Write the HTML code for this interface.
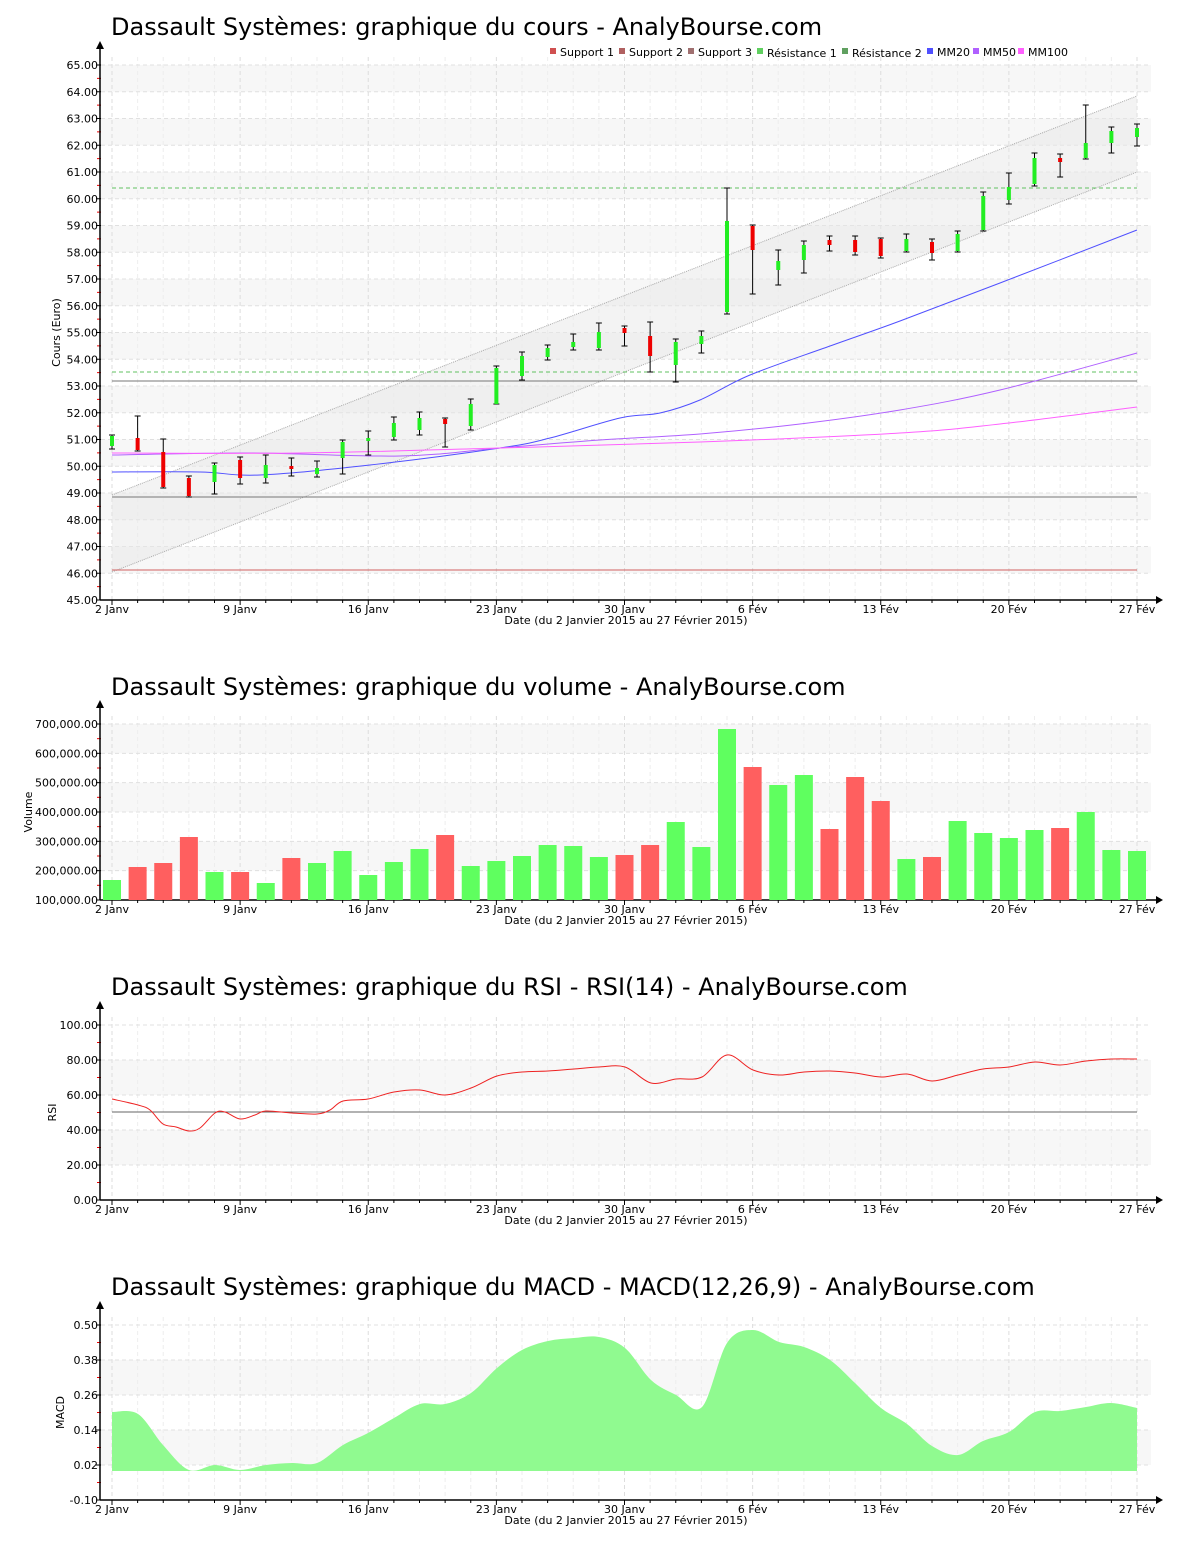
<!DOCTYPE html>
<html><head><meta charset="utf-8">
<style>
body{margin:0;background:#fff;width:1200px;height:1550px;overflow:hidden;font-family:"DejaVu Sans","Liberation Sans",sans-serif}
svg{position:absolute;left:0;top:0}
text{font-family:"DejaVu Sans","Liberation Sans",sans-serif}
</style></head><body>
<svg id="s" width="1200" height="1550" xmlns="http://www.w3.org/2000/svg">
<text x="111" y="35" font-size="24" fill="#000">Dassault Systèmes: graphique du cours - AnalyBourse.com</text>
<text x="111" y="695" font-size="24" fill="#000">Dassault Systèmes: graphique du volume - AnalyBourse.com</text>
<text x="111" y="995" font-size="24" fill="#000">Dassault Systèmes: graphique du RSI - RSI(14) - AnalyBourse.com</text>
<text x="111" y="1295" font-size="24" fill="#000">Dassault Systèmes: graphique du MACD - MACD(12,26,9) - AnalyBourse.com</text>
<g font-size="11" fill="#000">
<rect x="550" y="48" width="6" height="6" fill="#d05050"/><text x="560" y="56">Support 1</text>
<rect x="619" y="48" width="6" height="6" fill="#b06060"/><text x="629" y="56">Support 2</text>
<rect x="688" y="48" width="6" height="6" fill="#a07070"/><text x="698" y="56">Support 3</text>
<rect x="757" y="48" width="6" height="6" fill="#60d060"/><text x="767" y="57">Résistance 1</text>
<rect x="842" y="48" width="6" height="6" fill="#60a060"/><text x="852" y="57">Résistance 2</text>
<rect x="927" y="48" width="6" height="6" fill="#5050ff"/><text x="937" y="56">MM20</text>
<rect x="973" y="48" width="6" height="6" fill="#b060ff"/><text x="983" y="56">MM50</text>
<rect x="1018" y="48" width="6" height="6" fill="#ff60ff"/><text x="1028" y="56">MM100</text>
</g>
</svg>
<script>
const S=document.getElementById('s');const NS='http://www.w3.org/2000/svg';
function el(t,a,txt){const e=document.createElementNS(NS,t);for(const k in a)e.setAttribute(k,a[k]);if(txt!==undefined)e.textContent=txt;S.appendChild(e);return e;}
const X=i=>112+i*25.625;
const dates=[[0,'2 Janv'],[5,'9 Janv'],[10,'16 Janv'],[15,'23 Janv'],[20,'30 Janv'],[25,'6 Fév'],[30,'13 Fév'],[35,'20 Fév'],[40,'27 Fév']];
function frame(top,bot,labels,bandsGrayStart,ylabel,ylx){
 for(let k=0;k<labels.length-1;k++){ if((k%2===0)===bandsGrayStart) el('rect',{x:101,y:labels[k][0],width:1050,height:labels[k+1][0]-labels[k][0],fill:'#f7f7f7'});}
 for(let i=0;i<=40;i++){const maj=i%5===0;el('line',{x1:X(i),x2:X(i),y1:top-8,y2:bot,stroke:maj?'#ddd':'#eee','stroke-dasharray':'4,3'});}
 labels.forEach(([y,t])=>{el('line',{x1:101,x2:1151,y1:y,y2:y,stroke:'#e0e0e0','stroke-dasharray':'4,3'});
  el('line',{x1:96,x2:101,y1:y,y2:y,stroke:'#000'});el('text',{x:98,y:y+4,'font-size':11,'text-anchor':'end'},t);});
 for(let k=0;k<labels.length-1;k++){const y=(labels[k][0]+labels[k+1][0])/2;el('line',{x1:97,x2:101,y1:y,y2:y,stroke:'#e00'});}
 el('line',{x1:100,x2:100,y1:top-18,y2:bot,stroke:'#000','stroke-width':1.5});
 el('polygon',{points:`96,${top-16} 104,${top-16} 100,${top-24}`,fill:'#000'});
 el('line',{x1:100,x2:1158,y1:bot,y2:bot,stroke:'#000','stroke-width':1.5});
 el('polygon',{points:`1156,${bot-4} 1156,${bot+4} 1163,${bot}`,fill:'#000'});
 for(let i=0;i<=40;i++){el('line',{x1:X(i),x2:X(i),y1:bot,y2:bot+(i%5?3:5),stroke:'#000'});}
 dates.forEach(([i,t])=>el('text',{x:X(i),y:bot+13,'font-size':11,'text-anchor':'middle'},t));
 el('text',{x:626,y:bot+24,'font-size':11,'text-anchor':'middle'},'Date (du 2 Janvier 2015 au 27 Février 2015)');
 el('text',{x:ylx,y:(top+bot)/2,'font-size':11,'text-anchor':'middle',transform:`rotate(-90 ${ylx} ${(top+bot)/2})`},ylabel);
}
function smooth(p){let d='M'+p[0][0]+','+p[0][1];for(let i=0;i<p.length-1;i++){const a=p[i-1]||p[i],b=p[i],c=p[i+1],e=p[i+2]||c;
 d+=` C${b[0]+(c[0]-a[0])/6},${b[1]+(c[1]-a[1])/6} ${c[0]-(e[0]-b[0])/6},${c[1]-(e[1]-b[1])/6} ${c[0]},${c[1]}`;}return d;}
function pline(p,c){el('path',{d:smooth(p),fill:'none',stroke:c,'stroke-width':1});}
let pl=[];for(let v=65;v>=45;v--)pl.push([65+(65-v)*26.75,v.toFixed(2)]);
frame(65,600,pl,true,'Cours (Euro)',60);
el('polygon',{points:'112,495 1137,96 1137,172 112,572',fill:'#e8e8e8','fill-opacity':0.5});
el('line',{x1:112,y1:495,x2:1137,y2:96,stroke:'#aaa','stroke-dasharray':'1,1'});
el('line',{x1:112,y1:572,x2:1137,y2:172,stroke:'#aaa','stroke-dasharray':'1,1'});
el('line',{x1:112,x2:1137,y1:570,y2:570,stroke:'#d06060'});
el('line',{x1:112,x2:1137,y1:497,y2:497,stroke:'#777'});
el('line',{x1:112,x2:1137,y1:381,y2:381,stroke:'#777'});
el('line',{x1:112,x2:1137,y1:188,y2:188,stroke:'#60c060','stroke-dasharray':'4,3'});
el('line',{x1:112,x2:1137,y1:372,y2:372,stroke:'#60c060','stroke-dasharray':'4,3'});
pline([[112,472],[200,472],[260,475],[370,465],[500,448],[550,438],[620,418],[660,413],[700,400],[750,375],[830,346],[900,321],[1000,283],[1137,230]],'#5050ff');
pline([[112,455],[250,453],[400,456],[500,448],[600,440],[700,434],[800,424],[900,410],[1000,390],[1137,353]],'#b060ff');
pline([[112,453],[300,453],[500,448],[700,442],[900,433],[1000,424],[1137,407]],'#ff60ff');
const C=[['g',436,446,435,449],['r',438,450,416,451],['r',452,487,439,488],['r',478,496,476,497],['g',465,482,463,494],['r',460,478,457,484],['g',465,478,455,483],['r',466,469,458,476],['g',468,474,461,477],['g',442,458,440,474],['g',438,441,431,455],['g',423,437,417,440],['g',418,430,412,435],['r',419,424,418,447],['g',404,426,399,430],['g',368,404,366,404],['g',356,376,352,380],['g',348,357,345,360],['g',342,347,334,350],['g',332,348,323,350],['r',328,333,326,346],['r',336,356,322,372],['g',342,365,339,382],['g',336,344,331,353],['g',221,312,188,314],['r',226,250,225,294],['g',261,270,250,285],['g',245,260,241,273],['r',240,245,236,251],['r',240,252,236,255],['r',239,256,238,258],['g',239,251,234,252],['r',242,253,239,260],['g',234,251,231,252],['g',196,230,192,231],['g',187,200,173,204],['g',158,184,153,186],['r',158,162,154,177],['g',143,158,105,159],['g',131,143,127,153],['g',128,137,124,146]];
C.forEach((c,i)=>{const x=X(i);el('line',{x1:x,x2:x,y1:c[3],y2:c[4],stroke:'#000'});el('line',{x1:x-3,x2:x+3,y1:c[3],y2:c[3],stroke:'#000'});el('line',{x1:x-3,x2:x+3,y1:c[4],y2:c[4],stroke:'#000'});
 el('rect',{x:x-2,y:c[1],width:4,height:Math.max(2,c[2]-c[1]),fill:c[0]=='g'?'#22ee22':'#ee0000'});});
let vl=[];for(let k=7;k>=1;k--)vl.push([724+(7-k)*29.33,(k*100)+',000.00']);
frame(724,900,vl,true,'Volume',32);
const VT=[880,867,863,837,872,872,883,858,863,851,875,862,849,835,866,861,856,845,846,857,855,845,822,847,729,767,785,775,829,777,801,859,857,821,833,838,830,828,812,850,851];
const RED=[1,2,3,5,7,13,20,21,25,28,29,30,32,37];
VT.forEach((t,i)=>el('rect',{x:X(i)-9,y:t,width:18,height:900-t,fill:RED.includes(i)?'#ff5f5f':'#5fff5f'}));
let rl=[];for(let v=100;v>=0;v-=20)rl.push([1025+(100-v)*1.75,v.toFixed(2)]);
frame(1025,1200,rl,false,'RSI',56);
el('line',{x1:112,x2:1137,y1:1112,y2:1112,stroke:'#666'});
const R=[[112,1099],[138,1105],[150,1110],[163,1124],[176,1127],[189,1131],[200,1128],[215,1113],[225,1112],[240,1119],[255,1115],[266,1111],[292,1113],[317,1114],[330,1110],[343,1101],[368,1099],[394,1092],[420,1090],[445,1095],[471,1088],[497,1076],[522,1072],[548,1071],[574,1069],[599,1067],[625,1067],[651,1083],[676,1079],[702,1077],[727,1055],[753,1070],[779,1075],[804,1072],[830,1071],[855,1073],[881,1077],[907,1074],[932,1081],[958,1075],[983,1069],[1009,1067],[1035,1062],[1060,1065],[1086,1061],[1111,1059],[1137,1059]];
pline(R,'#ee2222');
let ml=[];[0.50,0.38,0.26,0.14,0.02,-0.10].forEach((v,k)=>ml.push([1325+k*35,v.toFixed(2)]));
frame(1325,1500,ml,false,'MACD',64);
const M=[[112,1412],[138,1414],[163,1445],[189,1470],[215,1465],[240,1470],[266,1465],[292,1463],[317,1463],[343,1445],[368,1433],[394,1418],[420,1404],[445,1404],[471,1393],[497,1368],[522,1350],[548,1341],[574,1338],[599,1337],[625,1348],[651,1380],[676,1395],[702,1407],[727,1343],[753,1330],[779,1342],[804,1347],[830,1360],[855,1383],[881,1408],[907,1424],[932,1446],[958,1455],[983,1441],[1009,1432],[1035,1412],[1060,1411],[1086,1407],[1111,1403],[1137,1408]];
el('path',{d:'M112,1471 L'+smooth(M).slice(1)+' L1137,1471 Z',fill:'#90fa90'});
</script>
</body></html>
